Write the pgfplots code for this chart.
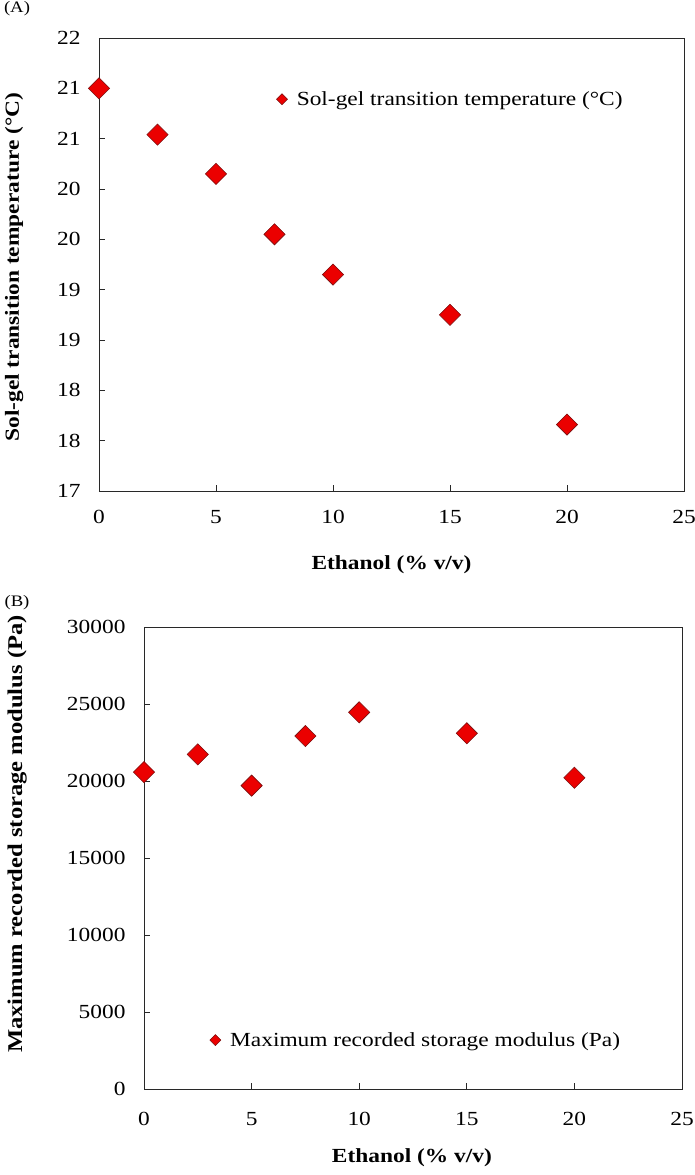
\documentclass[border=0pt]{standalone}
\usepackage{fontspec}
\setmainfont{Liberation Serif}[FakeStretch=1.17]
\usepackage{pgfplots}
\pgfplotsset{compat=1.18}
\definecolor{mfill}{RGB}{235,0,0}
\definecolor{mdraw}{RGB}{120,15,15}
\definecolor{axc}{RGB}{40,40,40}
\pgfplotsset{
  common/.style={
    scale only axis, clip=false,
    axis line style={axc, line width=0.8pt},
    tick style={axc, line width=0.8pt},
    major tick length=6pt,
    tick pos=left,
    tick align=inside,
    ticklabel style={font=\fontsize{20}{24}\selectfont},
    /pgf/number format/assume math mode=true,
    /pgf/number format/1000 sep={},
    scaled ticks=false,
    xmin=0, xmax=25, xtick={0,5,10,15,20,25},
    label style={font=\fontsize{20}{24}\selectfont\bfseries},
    legend style={draw=none, fill=none, inner sep=0pt, outer sep=0pt,
      font=\fontsize{20}{24}\selectfont, column sep=9pt, nodes={inner sep=0pt}},
    legend cell align=left,
    legend image code/.code={
      \draw[fill=mfill, draw=mdraw, line width=0.5pt]
        (0pt,0pt) -- (5.5pt,5.5pt) -- (11pt,0pt) -- (5.5pt,-5.5pt) -- cycle;},
  },
  dia/.style={only marks, mark=square*, mark size=7.5pt,
    mark options={rotate=45, fill=mfill, draw=mdraw, line width=0.6pt}},
}
\begin{document}
\begin{tikzpicture}
\path[use as bounding box] (0,0) rectangle (694pt,-1175pt);
\node[font=\fontsize{16}{19}\selectfont] at (17pt,-9pt) {(A)};
\node[font=\fontsize{16}{19}\selectfont] at (17pt,-603pt) {(B)};

\begin{axis}[common, at={(99pt,-38pt)}, anchor=north west,
  width=585pt, height=453pt,
  ymin=17, ymax=21.5,
  ytick={17,17.5,18,18.5,19,19.5,20,20.5,21,21.5},
  yticklabels={17,18,18,19,19,20,20,21,21,22},
  yticklabel shift=15pt, xticklabel shift=16pt,
  xlabel={Ethanol (\% v/v)},
  ylabel={Sol-gel transition temperature (°C)},
  xlabel style={at={(axis description cs:0.5,-0.163)}, anchor=center},
  ylabel style={at={(axis description cs:-0.145,0.494)}, anchor=center},
  legend style={at={(0.303,0.865)}, anchor=west},
]
\addplot[dia] coordinates {(0,21.0) (2.5,20.54) (5,20.15) (7.5,19.55) (10,19.15) (15,18.75) (20,17.66)};
\addlegendentry{Sol-gel transition temperature (°C)}
\end{axis}

\begin{axis}[common, at={(144pt,-627pt)}, anchor=north west,
  width=538pt, height=462pt,
  ymin=0, ymax=30000,
  ytick={0,5000,10000,15000,20000,25000,30000},
  yticklabel shift=15pt, xticklabel shift=20pt,
  xlabel={Ethanol (\% v/v)},
  ylabel={Maximum recorded storage modulus (Pa)},
  xlabel style={at={(axis description cs:0.498,-0.149)}, anchor=center},
  ylabel style={at={(axis description cs:-0.236,0.552)}, anchor=center, font=\fontsize{21}{25}\selectfont\bfseries},
  legend style={at={(0.122,0.106)}, anchor=west},
]
\addplot[dia] coordinates {(0,20580) (2.5,21730) (5,19700) (7.5,22920) (10,24460) (15,23100) (20,20210)};
\addlegendentry{Maximum recorded storage modulus (Pa)}
\end{axis}
\end{tikzpicture}
\end{document}
